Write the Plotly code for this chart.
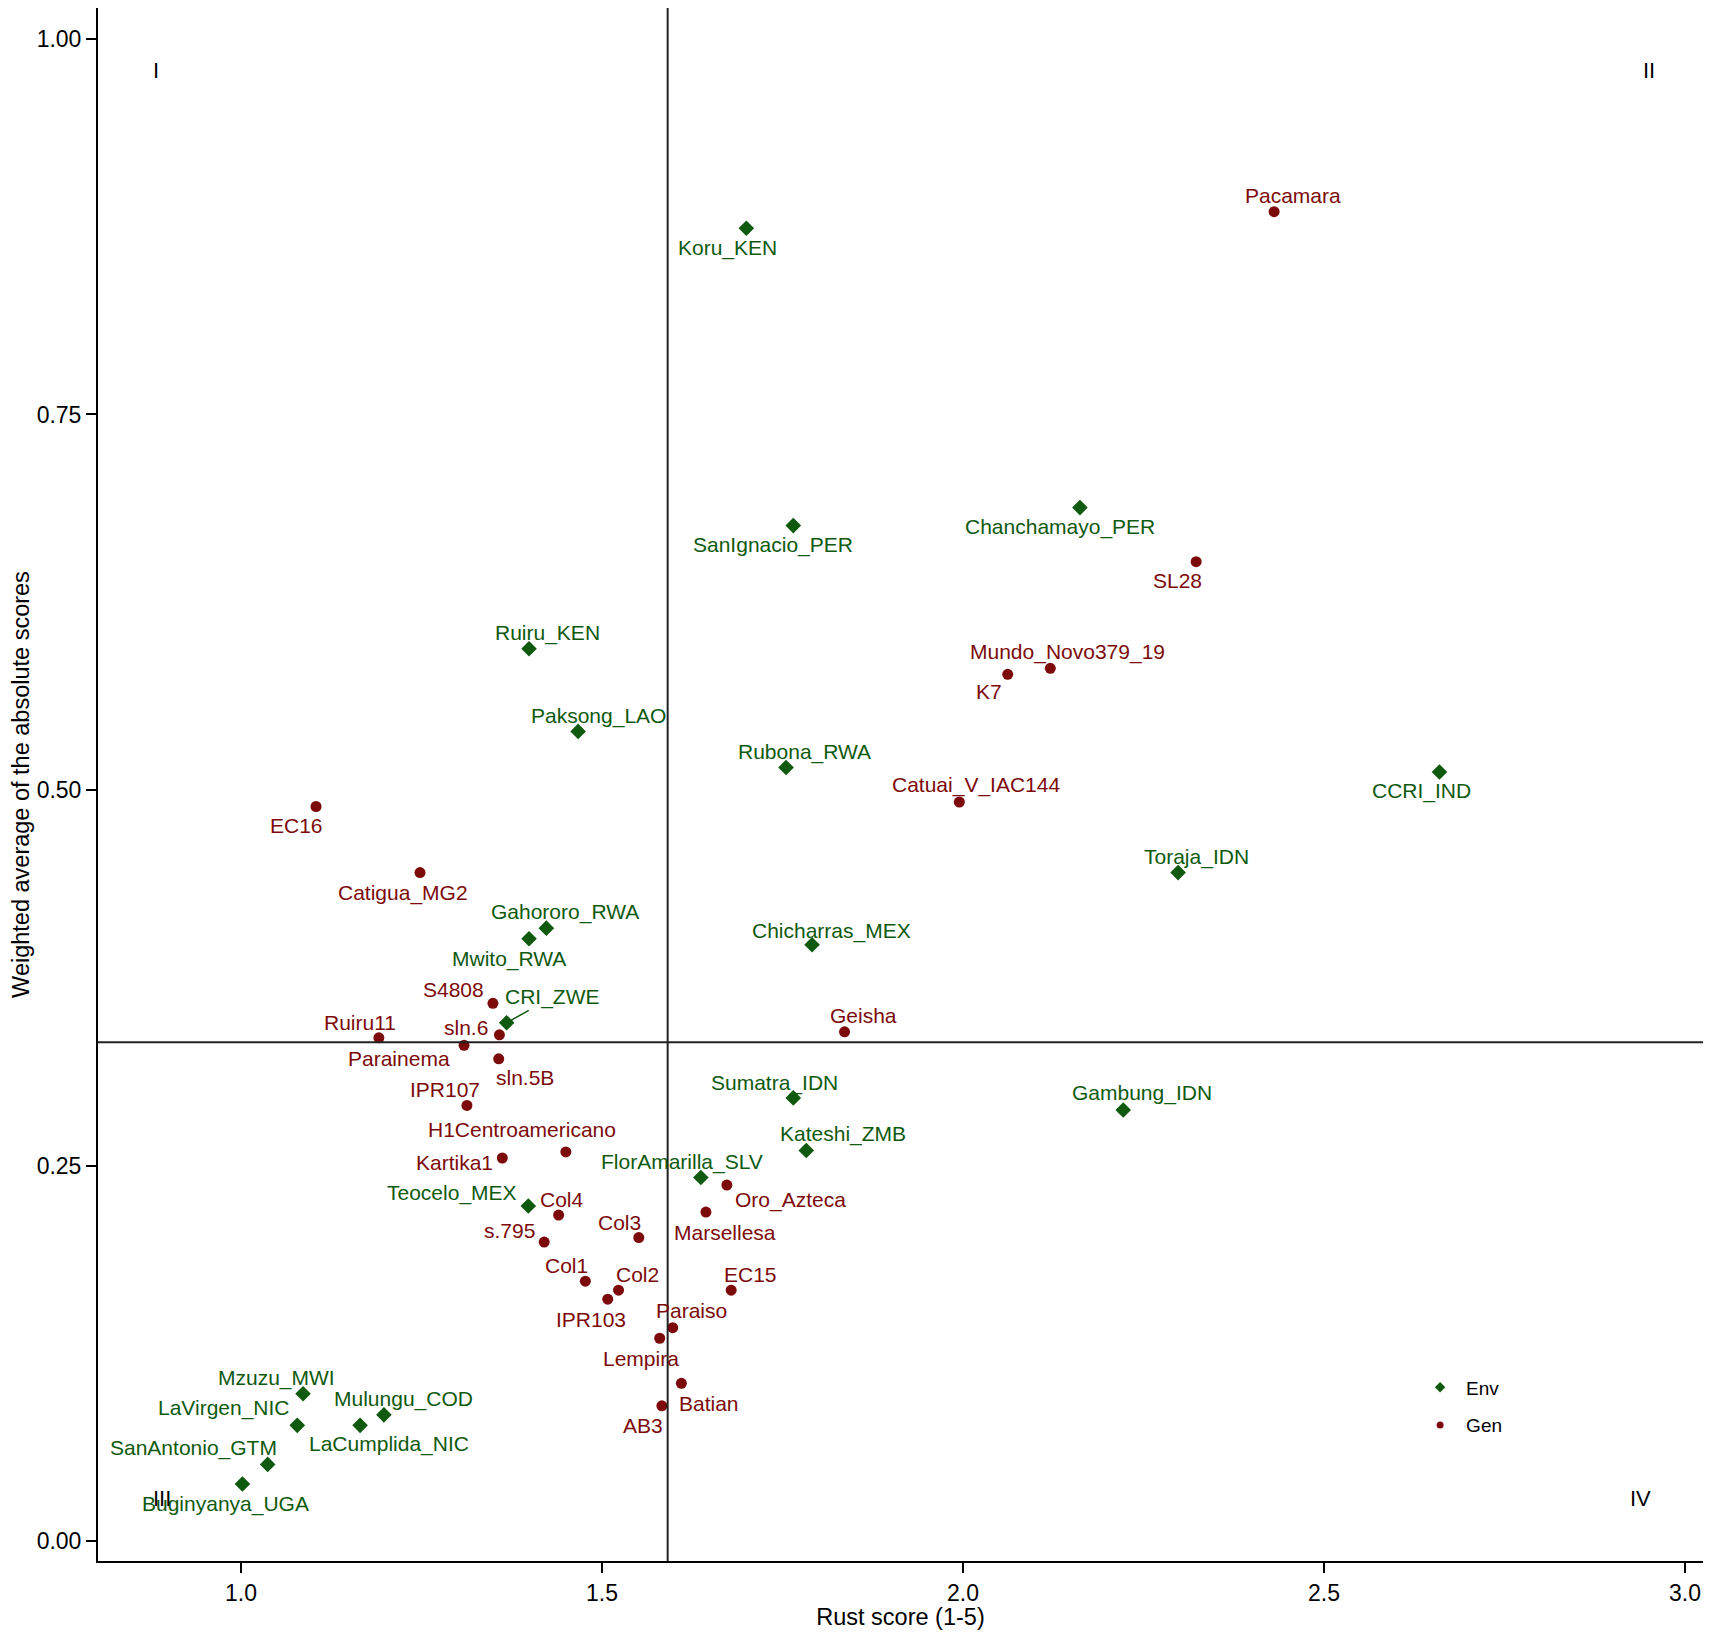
import plotly.graph_objects as go

# environments (green diamonds)
env_names = ["Koru_KEN", "SanIgnacio_PER", "Chanchamayo_PER", "Ruiru_KEN", "Paksong_LAO",
             "Rubona_RWA", "CCRI_IND", "Toraja_IDN", "Gahororo_RWA", "Mwito_RWA",
             "Chicharras_MEX", "CRI_ZWE", "Sumatra_IDN", "Gambung_IDN", "Kateshi_ZMB",
             "FlorAmarilla_SLV", "Teocelo_MEX", "Mzuzu_MWI", "Mulungu_COD", "LaVirgen_NIC",
             "LaCumplida_NIC", "SanAntonio_GTM", "Buginyanya_UGA"]
env_rust = [1.700, 1.765, 2.162, 1.399, 1.467, 1.755, 2.660, 2.298, 1.423, 1.399,
            1.791, 1.368, 1.765, 2.222, 1.783, 1.637, 1.398, 1.086, 1.198, 1.078,
            1.165, 1.037, 1.002]
env_score = [0.874, 0.676, 0.688, 0.594, 0.539, 0.515, 0.512, 0.445, 0.408, 0.401,
             0.397, 0.345, 0.295, 0.287, 0.260, 0.242, 0.223, 0.098, 0.084, 0.077,
             0.077, 0.051, 0.038]

# genotypes (red dots)
gen_names = ["Pacamara", "SL28", "Mundo_Novo379_19", "K7", "Catuai_V_IAC144", "EC16",
             "Catigua_MG2", "S4808", "Geisha", "Ruiru11", "sln.6", "Parainema", "sln.5B",
             "IPR107", "H1Centroamericano", "Kartika1", "Oro_Azteca", "Marsellesa", "Col4",
             "s.795", "Col3", "Col1", "Col2", "EC15", "IPR103", "Paraiso", "Lempira",
             "Batian", "AB3"]
gen_rust = [2.431, 2.323, 2.121, 2.062, 1.995, 1.104, 1.248, 1.349, 1.836, 1.191,
            1.358, 1.309, 1.357, 1.313, 1.450, 1.362, 1.673, 1.644, 1.440, 1.420,
            1.551, 1.477, 1.523, 1.679, 1.508, 1.598, 1.580, 1.610, 1.583]
gen_score = [0.885, 0.652, 0.581, 0.577, 0.492, 0.489, 0.445, 0.358, 0.339, 0.335,
             0.337, 0.330, 0.321, 0.290, 0.259, 0.255, 0.237, 0.219, 0.217, 0.199,
             0.202, 0.173, 0.167, 0.167, 0.161, 0.142, 0.135, 0.105, 0.090]

# quadrant cut-offs
cut_x = 1.591
cut_y = 0.332

quad_labels = ["I", "II", "III", "IV"]
quad_x = [0.882, 2.950, 0.890, 2.938]
quad_y = [0.979, 0.979, 0.028, 0.028]

GREEN = "#0f5a0f"
RED = "#7d0a0a"
FONT = "Liberation Sans, Arial, sans-serif"
LABEL_SIZE = 21

# label offsets in pixels (dx right, dy up), repel-style placement
offsets = {
    "Koru_KEN": (-19, -20), "SanIgnacio_PER": (-20, -19), "Chanchamayo_PER": (-20, -19),
    "Ruiru_KEN": (18, 16), "Paksong_LAO": (20, 15), "Rubona_RWA": (18, 15),
    "CCRI_IND": (-18, -19), "Toraja_IDN": (18, 16), "Gahororo_RWA": (19, 16),
    "Mwito_RWA": (-20, -20), "Chicharras_MEX": (19, 14), "Sumatra_IDN": (-19, 15),
    "Gambung_IDN": (19, 17), "Kateshi_ZMB": (37, 16), "FlorAmarilla_SLV": (-19, 16),
    "Teocelo_MEX": (-76, 13), "Mzuzu_MWI": (-27, 16), "Mulungu_COD": (20, 16),
    "LaVirgen_NIC": (-73, 17), "LaCumplida_NIC": (29, -19), "SanAntonio_GTM": (-74, 16),
    "Buginyanya_UGA": (-17, -20),
    "Pacamara": (19, 16), "SL28": (-19, -19), "Mundo_Novo379_19": (17, 16),
    "K7": (-19, -17), "Catuai_V_IAC144": (17, 17), "EC16": (-20, -19),
    "Catigua_MG2": (-17, -20), "S4808": (-39, 14), "Geisha": (19, 16),
    "Ruiru11": (-19, 15), "sln.6": (-33, 7), "Parainema": (-65, -13), "sln.5B": (26, -19),
    "IPR107": (-22, 16), "H1Centroamericano": (-44, 22), "Kartika1": (-48, -5),
    "Oro_Azteca": (64, -15), "Marsellesa": (19, -20), "Col4": (3, 16), "s.795": (-35, 12),
    "Col3": (-19, 15), "Col1": (-19, 16), "Col2": (19, 16), "EC15": (19, 16),
    "IPR103": (-17, -20), "Paraiso": (19, 17), "Lempira": (-19, -20), "Batian": (28, -20),
    "AB3": (-19, -20),
}

fig = go.Figure()

fig.add_trace(go.Scatter(x=env_rust, y=env_score, mode="markers", showlegend=False,
                         marker=dict(symbol="diamond", size=12, color=GREEN)))
fig.add_trace(go.Scatter(x=gen_rust, y=gen_score, mode="markers", showlegend=False,
                         marker=dict(symbol="circle", size=11, color=RED)))
# small legend-only markers
fig.add_trace(go.Scatter(x=[None], y=[None], mode="markers", name="Env", legendgroup="env",
                         marker=dict(symbol="diamond", size=8, color=GREEN)))
fig.add_trace(go.Scatter(x=[None], y=[None], mode="markers", name="Gen", legendgroup="gen",
                         marker=dict(symbol="circle", size=7, color=RED)))

fig.add_vline(x=cut_x, line=dict(color="#222222", width=2))
fig.add_hline(y=cut_y, line=dict(color="#222222", width=2))

annots = []
for names, xs, ys, col in [(env_names, env_rust, env_score, GREEN),
                           (gen_names, gen_rust, gen_score, RED)]:
    for n, x, y in zip(names, xs, ys):
        if n == "CRI_ZWE":
            # this one gets a connector segment
            annots.append(dict(x=x, y=y, text=n, showarrow=True,
                               arrowhead=0, arrowwidth=1.5, arrowcolor=col, ax=46, ay=-26,
                               standoff=5, font=dict(size=LABEL_SIZE, color=col, family=FONT)))
            continue
        dx, dy = offsets[n]
        annots.append(dict(x=x, y=y, text=n, showarrow=False, xshift=dx, yshift=dy,
                           font=dict(size=LABEL_SIZE, color=col, family=FONT)))

for t, x, y in zip(quad_labels, quad_x, quad_y):
    annots.append(dict(x=x, y=y, text=t, showarrow=False,
                       font=dict(size=22, color="black", family=FONT)))

# page body has an 8px margin, so the figure is sized/offset to compensate
fig.update_layout(
    width=1698, height=1622,
    margin=dict(l=90, r=3, t=0, b=69),
    plot_bgcolor="white", paper_bgcolor="white",
    font=dict(family=FONT, size=20, color="black"),
    annotations=annots,
    legend=dict(x=0.820, y=0.124, xanchor="left", yanchor="top",
                bgcolor="rgba(0,0,0,0)", font=dict(size=19),
                itemwidth=42, tracegroupgap=10),
)
fig.update_xaxes(range=[0.802, 3.025], showline=True, linecolor="black", linewidth=2,
                 ticks="outside", ticklen=10, tickwidth=2, tickcolor="black",
                 tickvals=[1.0, 1.5, 2.0, 2.5, 3.0], ticktext=["1.0", "1.5", "2.0", "2.5", "3.0"],
                 tickfont=dict(size=23),
                 showgrid=False, zeroline=False,
                 title=dict(text="Rust score (1-5)", standoff=0, font=dict(size=23.5)))
fig.update_yaxes(range=[-0.0133, 1.0206], showline=True, linecolor="black", linewidth=2,
                 ticks="outside", ticklen=10, tickwidth=2, tickcolor="black",
                 tickvals=[0, 0.25, 0.5, 0.75, 1.0], ticktext=["0.00", "0.25", "0.50", "0.75", "1.00"],
                 tickfont=dict(size=23),
                 showgrid=False, zeroline=False,
                 title=dict(text="Weighted average of the absolute scores", standoff=8,
                            font=dict(size=23.5)))

fig.write_html("out.html")
